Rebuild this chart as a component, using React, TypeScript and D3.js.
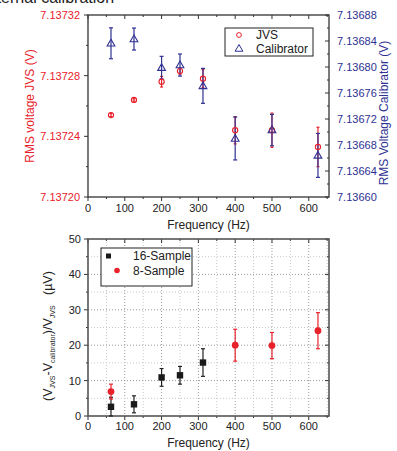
import { useRef, useEffect } from 'react';
import * as d3 from 'd3';

// top chart: RMS voltages vs frequency
const freqs = [62.5, 125, 200, 250, 312.5, 400, 500, 625];
const jvsValues = [7.137254, 7.137264, 7.137276, 7.137283, 7.137278, 7.137244, 7.137244, 7.137233];
const jvsErrors = [0.000001, 0.0000008, 0.0000035, 0.000002, 0.000006, 0.000009, 0.0000113, 0.000013];
const calValues = [7.1368365, 7.136843, 7.136799, 7.136803, 7.136771, 7.13669, 7.136703, 7.136664];
const calErrors = [0.0000238, 0.0000169, 0.0000174, 0.000017, 0.0000269, 0.000033, 0.0000241, 0.0000338];

const jvsTicks = [7.1372, 7.13724, 7.13728, 7.13732];
const calTicks = [7.1366, 7.13664, 7.13668, 7.13672, 7.13676, 7.1368, 7.13684, 7.13688];
const freqTicks = [0, 100, 200, 300, 400, 500, 600];

// bottom chart: difference in µV
const freq16 = [62.5, 125, 200, 250, 312.5];
const diff16 = [2.6, 3.3, 10.9, 11.5, 15.1];
const err16 = [2.7, 2.4, 2.5, 2.5, 3.9];
const freq8 = [62.5, 400, 500, 625];
const diff8 = [6.9, 20.0, 19.9, 24.1];
const err8 = [2.1, 4.5, 3.7, 5.1];
const diffTicks = [0, 10, 20, 30, 40, 50];

const RED = '#e8212b';
const BLUE = '#2e3192';
const FONT = '"Liberation Sans", Arial, sans-serif';

export default function App() {
    const svgRef = useRef<SVGSVGElement>(null);

    useEffect(() => {
        if (!svgRef.current) return;
        const svg = d3.select(svgRef.current);
        svg.selectAll('*').remove();
        svg.style('font-family', FONT);

        const L = 88, R = 329;

        // heading, cut off by the top edge as in the source image
        svg.append('text').attr('x', -22).attr('y', 3).attr('font-size', 16).attr('fill', '#222')
            .text('External calibration');

        // ---------- top chart ----------
        const t0 = 15, t1 = 197;
        const x = d3.scaleLinear().domain([0, 655]).range([L, R]);
        const yJ = d3.scaleLinear().domain([7.1372, 7.13732]).range([t1, t0]);
        const yC = d3.scaleLinear().domain([7.1366, 7.13688]).range([t1, t0]);

        const top = svg.append('g');
        const frame = (g: any, y0: number, y1: number, w: number, c: string) =>
            g.append('rect').attr('x', L).attr('y', y0).attr('width', R - L).attr('height', y1 - y0)
                .attr('fill', 'none').attr('stroke', c).attr('stroke-width', w);

        const xMinor = d3.range(0, 651, 50);
        const tickLines = (g: any, y0: number, y1: number) => {
            xMinor.forEach(v => {
                const len = v % 100 === 0 ? 4 : 2;
                g.append('line').attr('x1', x(v)).attr('x2', x(v)).attr('y1', y1).attr('y2', y1 + len)
                    .attr('stroke', '#333');
                g.append('line').attr('x1', x(v)).attr('x2', x(v)).attr('y1', y0).attr('y2', y0 + len)
                    .attr('stroke', '#333');
            });
        };
        tickLines(top, t0, t1);

        d3.range(7.1372, 7.137321, 0.00002).forEach((v, i) => {
            const len = i % 2 === 0 ? 4 : 2;
            top.append('line').attr('x1', L - len).attr('x2', L).attr('y1', yJ(v)).attr('y2', yJ(v)).attr('stroke', '#333');
        });
        d3.range(7.1366, 7.136881, 0.00002).forEach((v, i) => {
            const len = i % 2 === 0 ? 4 : 2;
            top.append('line').attr('x1', R - len).attr('x2', R).attr('y1', yC(v)).attr('y2', yC(v)).attr('stroke', '#333');
        });
        frame(top, t0, t1, 1.3, '#333');

        jvsTicks.forEach(v => {
            top.append('text').attr('x', L - 8).attr('y', yJ(v) + 4).attr('text-anchor', 'end')
                .attr('font-size', 11).attr('fill', RED).text(v.toFixed(5));
        });
        calTicks.forEach(v => {
            top.append('text').attr('x', R + 8).attr('y', yC(v) + 4).attr('text-anchor', 'start')
                .attr('font-size', 11).attr('fill', BLUE).text(v.toFixed(5));
        });
        freqTicks.forEach(v => {
            top.append('text').attr('x', x(v)).attr('y', t1 + 15).attr('text-anchor', 'middle')
                .attr('font-size', 11).attr('fill', '#222').text(v);
        });
        top.append('text').attr('x', (L + R) / 2).attr('y', 229).attr('text-anchor', 'middle')
            .attr('font-size', 12).attr('fill', '#222').text('Frequency (Hz)');
        top.append('text').attr('transform', `translate(34,${(t0 + t1) / 2}) rotate(-90)`)
            .attr('text-anchor', 'middle').attr('font-size', 12).attr('fill', RED).text('RMS voltage JVS (V)');
        top.append('text').attr('transform', `translate(388,${(t0 + t1) / 2 + 7}) rotate(-90)`)
            .attr('text-anchor', 'middle').attr('font-size', 12).attr('fill', BLUE).text('RMS Voltage Calibrator (V)');

        const errBar = (g: any, cx: number, ya: number, yb: number, c: string, cap: number) => {
            g.append('line').attr('x1', cx).attr('x2', cx).attr('y1', ya).attr('y2', yb).attr('stroke', c).attr('stroke-width', 1.2);
            [ya, yb].forEach(yy => g.append('line').attr('x1', cx - cap).attr('x2', cx + cap).attr('y1', yy).attr('y2', yy)
                .attr('stroke', c).attr('stroke-width', 1.2));
        };
        const tri = d3.symbol().type(d3.symbolTriangle).size(26);

        freqs.forEach((f, i) => {
            errBar(top, x(f), yJ(jvsValues[i] + jvsErrors[i]), yJ(jvsValues[i] - jvsErrors[i]), RED, 1.5);
        });
        freqs.forEach((f, i) => {
            errBar(top, x(f), yC(calValues[i] + calErrors[i]), yC(calValues[i] - calErrors[i]), BLUE, 2);
        });
        freqs.forEach((f, i) => {
            top.append('circle').attr('cx', x(f)).attr('cy', yJ(jvsValues[i])).attr('r', 2.6)
                .attr('fill', 'none').attr('stroke', RED).attr('stroke-width', 1.1);
        });
        freqs.forEach((f, i) => {
            top.append('path').attr('d', tri).attr('transform', `translate(${x(f)},${yC(calValues[i]) + 0.5})`)
                .attr('fill', 'none').attr('stroke', BLUE).attr('stroke-width', 1.1);
        });

        // top legend
        const lg = top.append('g');
        lg.append('rect').attr('x', 225).attr('y', 28).attr('width', 88).attr('height', 28)
            .attr('fill', 'white').attr('stroke', '#222').attr('stroke-width', 1);
        lg.append('circle').attr('cx', 239).attr('cy', 35).attr('r', 2.4).attr('fill', 'none').attr('stroke', RED);
        lg.append('path').attr('d', tri).attr('transform', 'translate(239,49)').attr('fill', 'none').attr('stroke', BLUE);
        lg.append('text').attr('x', 256).attr('y', 39).attr('font-size', 12).attr('fill', '#222').text('JVS');
        lg.append('text').attr('x', 256).attr('y', 53).attr('font-size', 12).attr('fill', '#222').text('Calibrator');

        // ---------- bottom chart ----------
        const b0 = 239, b1 = 416;
        const yD = d3.scaleLinear().domain([0, 50]).range([b1, b0]);
        const bot = svg.append('g');

        xMinor.filter(v => v > 0).forEach(v => {
            bot.append('line').attr('x1', x(v)).attr('x2', x(v)).attr('y1', b0).attr('y2', b1)
                .attr('stroke', v % 100 === 0 ? '#999' : '#c8c8c8').attr('stroke-dasharray', '1,2');
        });
        d3.range(5, 50, 5).forEach(v => {
            bot.append('line').attr('x1', L).attr('x2', R).attr('y1', yD(v)).attr('y2', yD(v))
                .attr('stroke', v % 10 === 0 ? '#999' : '#c8c8c8').attr('stroke-dasharray', '1,2');
        });
        tickLines(bot, b0, b1);
        d3.range(0, 51, 5).forEach(v => {
            const len = v % 10 === 0 ? 4 : 2;
            bot.append('line').attr('x1', L - len).attr('x2', L).attr('y1', yD(v)).attr('y2', yD(v)).attr('stroke', '#333');
            bot.append('line').attr('x1', R - len).attr('x2', R).attr('y1', yD(v)).attr('y2', yD(v)).attr('stroke', '#333');
        });
        frame(bot, b0, b1, 1.6, '#555');

        diffTicks.forEach(v => {
            bot.append('text').attr('x', L - 7).attr('y', yD(v) + 4).attr('text-anchor', 'end')
                .attr('font-size', 11).attr('fill', '#222').text(v);
        });
        freqTicks.forEach(v => {
            bot.append('text').attr('x', x(v)).attr('y', b1 + 14).attr('text-anchor', 'middle')
                .attr('font-size', 11).attr('fill', '#222').text(v);
        });
        bot.append('text').attr('x', (L + R) / 2).attr('y', 447).attr('text-anchor', 'middle')
            .attr('font-size', 12).attr('fill', '#222').text('Frequency (Hz)');

        const yt = bot.append('text').attr('transform', `translate(52,336) rotate(-90)`)
            .attr('text-anchor', 'middle').attr('font-size', 12.5).attr('fill', '#222');
        yt.append('tspan').text('(V');
        yt.append('tspan').attr('font-size', 7).attr('dy', 3).text('JVS');
        yt.append('tspan').attr('dy', -3).text('-V');
        yt.append('tspan').attr('font-size', 7).attr('dy', 3).text('calibrator');
        yt.append('tspan').attr('dy', -3).text(')/V');
        yt.append('tspan').attr('font-size', 7).attr('dy', 3).text('JVS');
        yt.append('tspan').attr('dy', -3).text('\u00a0\u00a0\u00a0(\u00b5V)');

        freq16.forEach((f, i) => {
            errBar(bot, x(f), yD(diff16[i] + err16[i]), yD(Math.max(0, diff16[i] - err16[i])), '#222', 2);
        });
        freq8.forEach((f, i) => {
            errBar(bot, x(f), yD(diff8[i] + err8[i]), yD(diff8[i] - err8[i]), RED, 2);
        });
        freq16.forEach((f, i) => {
            bot.append('rect').attr('x', x(f) - 3.2).attr('y', yD(diff16[i]) - 3.2).attr('width', 6.4).attr('height', 6.4)
                .attr('fill', '#1a1a1a');
        });
        freq8.forEach((f, i) => {
            bot.append('circle').attr('cx', x(f)).attr('cy', yD(diff8[i])).attr('r', 3.4).attr('fill', RED);
        });

        // bottom legend
        const lb = bot.append('g');
        lb.append('rect').attr('x', 101).attr('y', 248).attr('width', 91).attr('height', 38)
            .attr('fill', 'white').attr('stroke', '#222').attr('stroke-width', 1);
        lb.append('rect').attr('x', 106).attr('y', 253.5).attr('width', 5).attr('height', 5).attr('fill', '#1a1a1a');
        lb.append('circle').attr('cx', 117).attr('cy', 270.5).attr('r', 2.8).attr('fill', RED);
        lb.append('text').attr('x', 133).attr('y', 260).attr('font-size', 12).attr('fill', '#222').text('16-Sample');
        lb.append('text').attr('x', 133).attr('y', 275).attr('font-size', 12).attr('fill', '#222').text('8-Sample');
    }, []);

    return (
        <svg ref={svgRef} width={397} height={451}
            style={{ position: 'absolute', left: 0, top: 0, background: 'white' }} />
    );
}
